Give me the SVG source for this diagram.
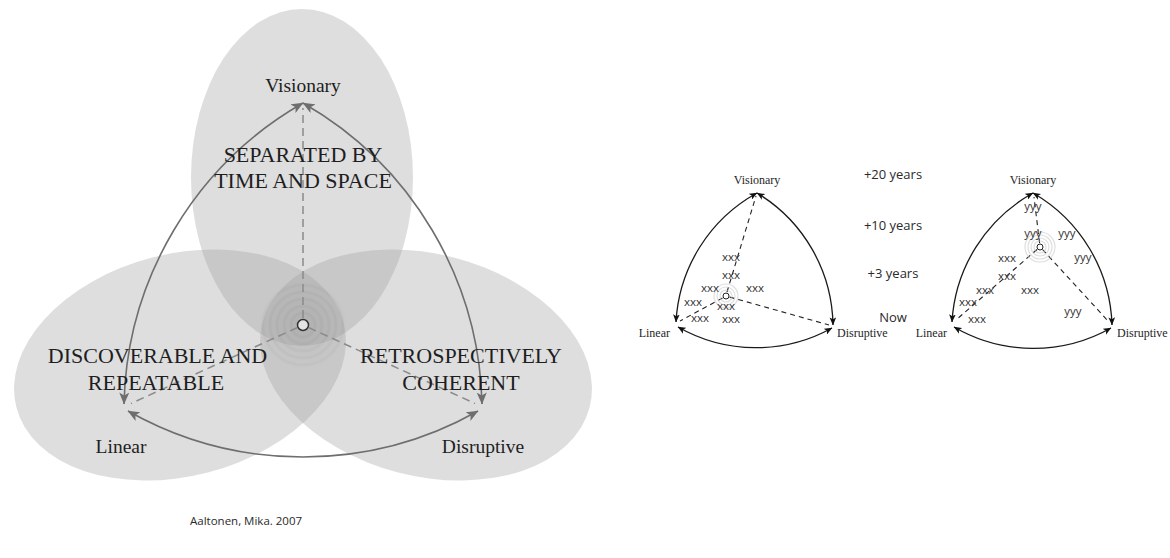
<svg xmlns="http://www.w3.org/2000/svg" width="1170" height="558" viewBox="0 0 1170 558">
<style>
.serif{font-family:"Liberation Serif","Times New Roman",serif;fill:#1e1e1e}
.big{font-size:22px;text-anchor:middle}
.corner{font-size:19.5px}
.sm{font-size:12px}
.sans{font-family:"Open Sans","Noto Sans",sans-serif;fill:#2a2a2a}
.mark{font-size:11.5px;text-anchor:middle;fill:#333}
.yr{font-size:13px;text-anchor:middle}
.ell{fill:#a0a0a0;fill-opacity:0.35}
.arc{fill:none;stroke:#6e6e6e;stroke-width:1.6;marker-start:url(#ah);marker-end:url(#ah)}
.dash{fill:none;stroke:#8a8a8a;stroke-width:1.5;stroke-dasharray:8 5}
.sarc{fill:none;stroke:#1a1a1a;stroke-width:1.3;marker-start:url(#sah);marker-end:url(#sah)}
.sdash{fill:none;stroke:#222;stroke-width:1.1;stroke-dasharray:5 4}
.ring{fill:none;stroke:#000;stroke-opacity:0.025;stroke-width:3}
.sring{fill:none;stroke:#c8c8c8;stroke-opacity:0.6;stroke-width:1.2}
</style>
<defs>
<marker id="ah" viewBox="0 0 12 10" refX="11.5" refY="5" markerWidth="12" markerHeight="10" markerUnits="userSpaceOnUse" orient="auto-start-reverse">
<path d="M0,0 L12,5 L0,10 L3,5 z" fill="#6e6e6e"/>
</marker>
<marker id="sah" viewBox="0 0 12 10" refX="11.5" refY="5" markerWidth="8" markerHeight="7" markerUnits="userSpaceOnUse" orient="auto-start-reverse">
<path d="M0,0 L12,5 L0,10 L3,5 z" fill="#111"/>
</marker>
<radialGradient id="glow">
<stop offset="0" stop-color="#000" stop-opacity="0.05"/>
<stop offset="1" stop-color="#000" stop-opacity="0"/>
</radialGradient>
</defs>
<rect width="1170" height="558" fill="#fff"/>

<g id="venn">
<ellipse id="ell-top" class="ell" cx="302" cy="177.5" rx="111" ry="168.5"/>
<ellipse id="ell-left" class="ell" cx="180" cy="365" rx="111" ry="169" transform="rotate(75.5 180 365)"/>
<ellipse id="ell-right" class="ell" cx="426" cy="365" rx="111" ry="169" transform="rotate(-75.5 426 365)"/>
<circle cx="303" cy="325" r="46" fill="url(#glow)"/>
<circle class="ring" cx="303" cy="325" r="12"/>
<circle class="ring" cx="303" cy="325" r="19"/>
<circle class="ring" cx="303" cy="325" r="26"/>
<circle class="ring" cx="303" cy="325" r="33"/>
<circle class="ring" cx="303" cy="325" r="40"/>
</g>

<g id="connectors">
<g id="big-connectors">
<path class="arc" d="M124,404 A356,356 0 0,1 303,103"/>
<path class="arc" d="M303,103 A356,356 0 0,1 482,404"/>
<path class="arc" d="M478,411 A356,356 0 0,1 128,411"/>
<path class="dash" d="M303,318 L303,108"/>
<path class="dash" d="M297.5,327.5 L131,403.5"/>
<path class="dash" d="M308.5,327.5 L475,403.5"/>
</g>
<g id="small1-connectors">
<path class="sarc" d="M676,322 A157,157 0 0,1 757,193"/>
<path class="sarc" d="M757,193 A157,157 0 0,1 833,325"/>
<path class="sarc" d="M832,328 A157,157 0 0,1 678,327"/>
<path class="sdash" d="M727,292 L756,196"/>
<path class="sdash" d="M722.5,298 L680,321"/>
<path class="sdash" d="M729.5,297 L829,325"/>
</g>
<g id="small2-connectors">
<path class="sarc" d="M952,322 A158,158 0 0,1 1033,193"/>
<path class="sarc" d="M1033,193 A158,158 0 0,1 1112,325"/>
<path class="sarc" d="M1111,328 A158,158 0 0,1 954,327"/>
<path class="sdash" d="M1039.6,243 L1034,197"/>
<path class="sdash" d="M1037,249.5 L956,320"/>
<path class="sdash" d="M1042.5,249.5 L1109,322"/>
</g>
</g>

<g id="node-center">
<circle cx="303" cy="325" r="5.5" fill="#e4e4e4" stroke="#333" stroke-width="1.5"/>
</g>
<g id="node-visionary"><text class="serif corner" x="303" y="92" text-anchor="middle">Visionary</text></g>
<g id="node-linear"><text class="serif corner" x="121" y="453" text-anchor="middle">Linear</text></g>
<g id="node-disruptive"><text class="serif corner" x="483" y="453" text-anchor="middle">Disruptive</text></g>
<g id="label-separated">
<text class="serif big" x="303" y="162">SEPARATED BY</text>
<text class="serif big" x="303" y="188">TIME AND SPACE</text>
</g>
<g id="label-discoverable">
<text class="serif big" x="157.5" y="363">DISCOVERABLE AND</text>
<text class="serif big" x="156" y="390">REPEATABLE</text>
</g>
<g id="label-retrospectively">
<text class="serif big" x="461" y="363">RETROSPECTIVELY</text>
<text class="serif big" x="461" y="390">COHERENT</text>
</g>

<g id="small1">
<circle class="sring" cx="726" cy="296" r="6"/>
<circle class="sring" cx="726" cy="296" r="9"/>
<circle class="sring" cx="726" cy="296" r="12"/>
<circle cx="726" cy="296" r="3" fill="#fff" stroke="#222" stroke-width="1"/>
<text class="serif sm" x="757" y="184" text-anchor="middle">Visionary</text>
<text class="serif sm" x="670" y="337" text-anchor="end">Linear</text>
<text class="serif sm" x="837" y="337">Disruptive</text>
<g class="sans mark">
<text x="731" y="260.5">xxx</text>
<text x="731" y="278.5">xxx</text>
<text x="710" y="291.5">xxx</text>
<text x="755" y="291.5">xxx</text>
<text x="693" y="305.5">xxx</text>
<text x="726" y="309.5">xxx</text>
<text x="700" y="321.5">xxx</text>
<text x="731" y="322.5">xxx</text>
</g>
</g>

<g id="timeline" class="sans yr">
<text x="893" y="179">+20 years</text>
<text x="893" y="230">+10 years</text>
<text x="893" y="278">+3 years</text>
<text x="893" y="322">Now</text>
</g>

<g id="small2">
<circle class="sring" cx="1040" cy="247" r="6"/>
<circle class="sring" cx="1040" cy="247" r="9"/>
<circle class="sring" cx="1040" cy="247" r="12"/>
<circle class="sring" cx="1040" cy="247" r="15"/>
<circle cx="1040" cy="247" r="3" fill="#fff" stroke="#222" stroke-width="1"/>
<text class="serif sm" x="1033" y="184" text-anchor="middle">Visionary</text>
<text class="serif sm" x="947" y="337" text-anchor="end">Linear</text>
<text class="serif sm" x="1117" y="337">Disruptive</text>
<g class="sans mark">
<text x="1033" y="209.5">yyy</text>
<text x="1033" y="236.5">yyy</text>
<text x="1067" y="236.5">yyy</text>
<text x="1083" y="260.5">yyy</text>
<text x="1073" y="314.5">yyy</text>
<text x="1007" y="261.5">xxx</text>
<text x="1007" y="279.5">xxx</text>
<text x="985" y="293.5">xxx</text>
<text x="1030" y="293.5">xxx</text>
<text x="968" y="305.5">xxx</text>
<text x="977" y="322.5">xxx</text>
</g>
</g>

<g id="caption"><text class="sans" x="190" y="525" font-size="11.5" fill="#333">Aaltonen, Mika. 2007</text></g>
</svg>
